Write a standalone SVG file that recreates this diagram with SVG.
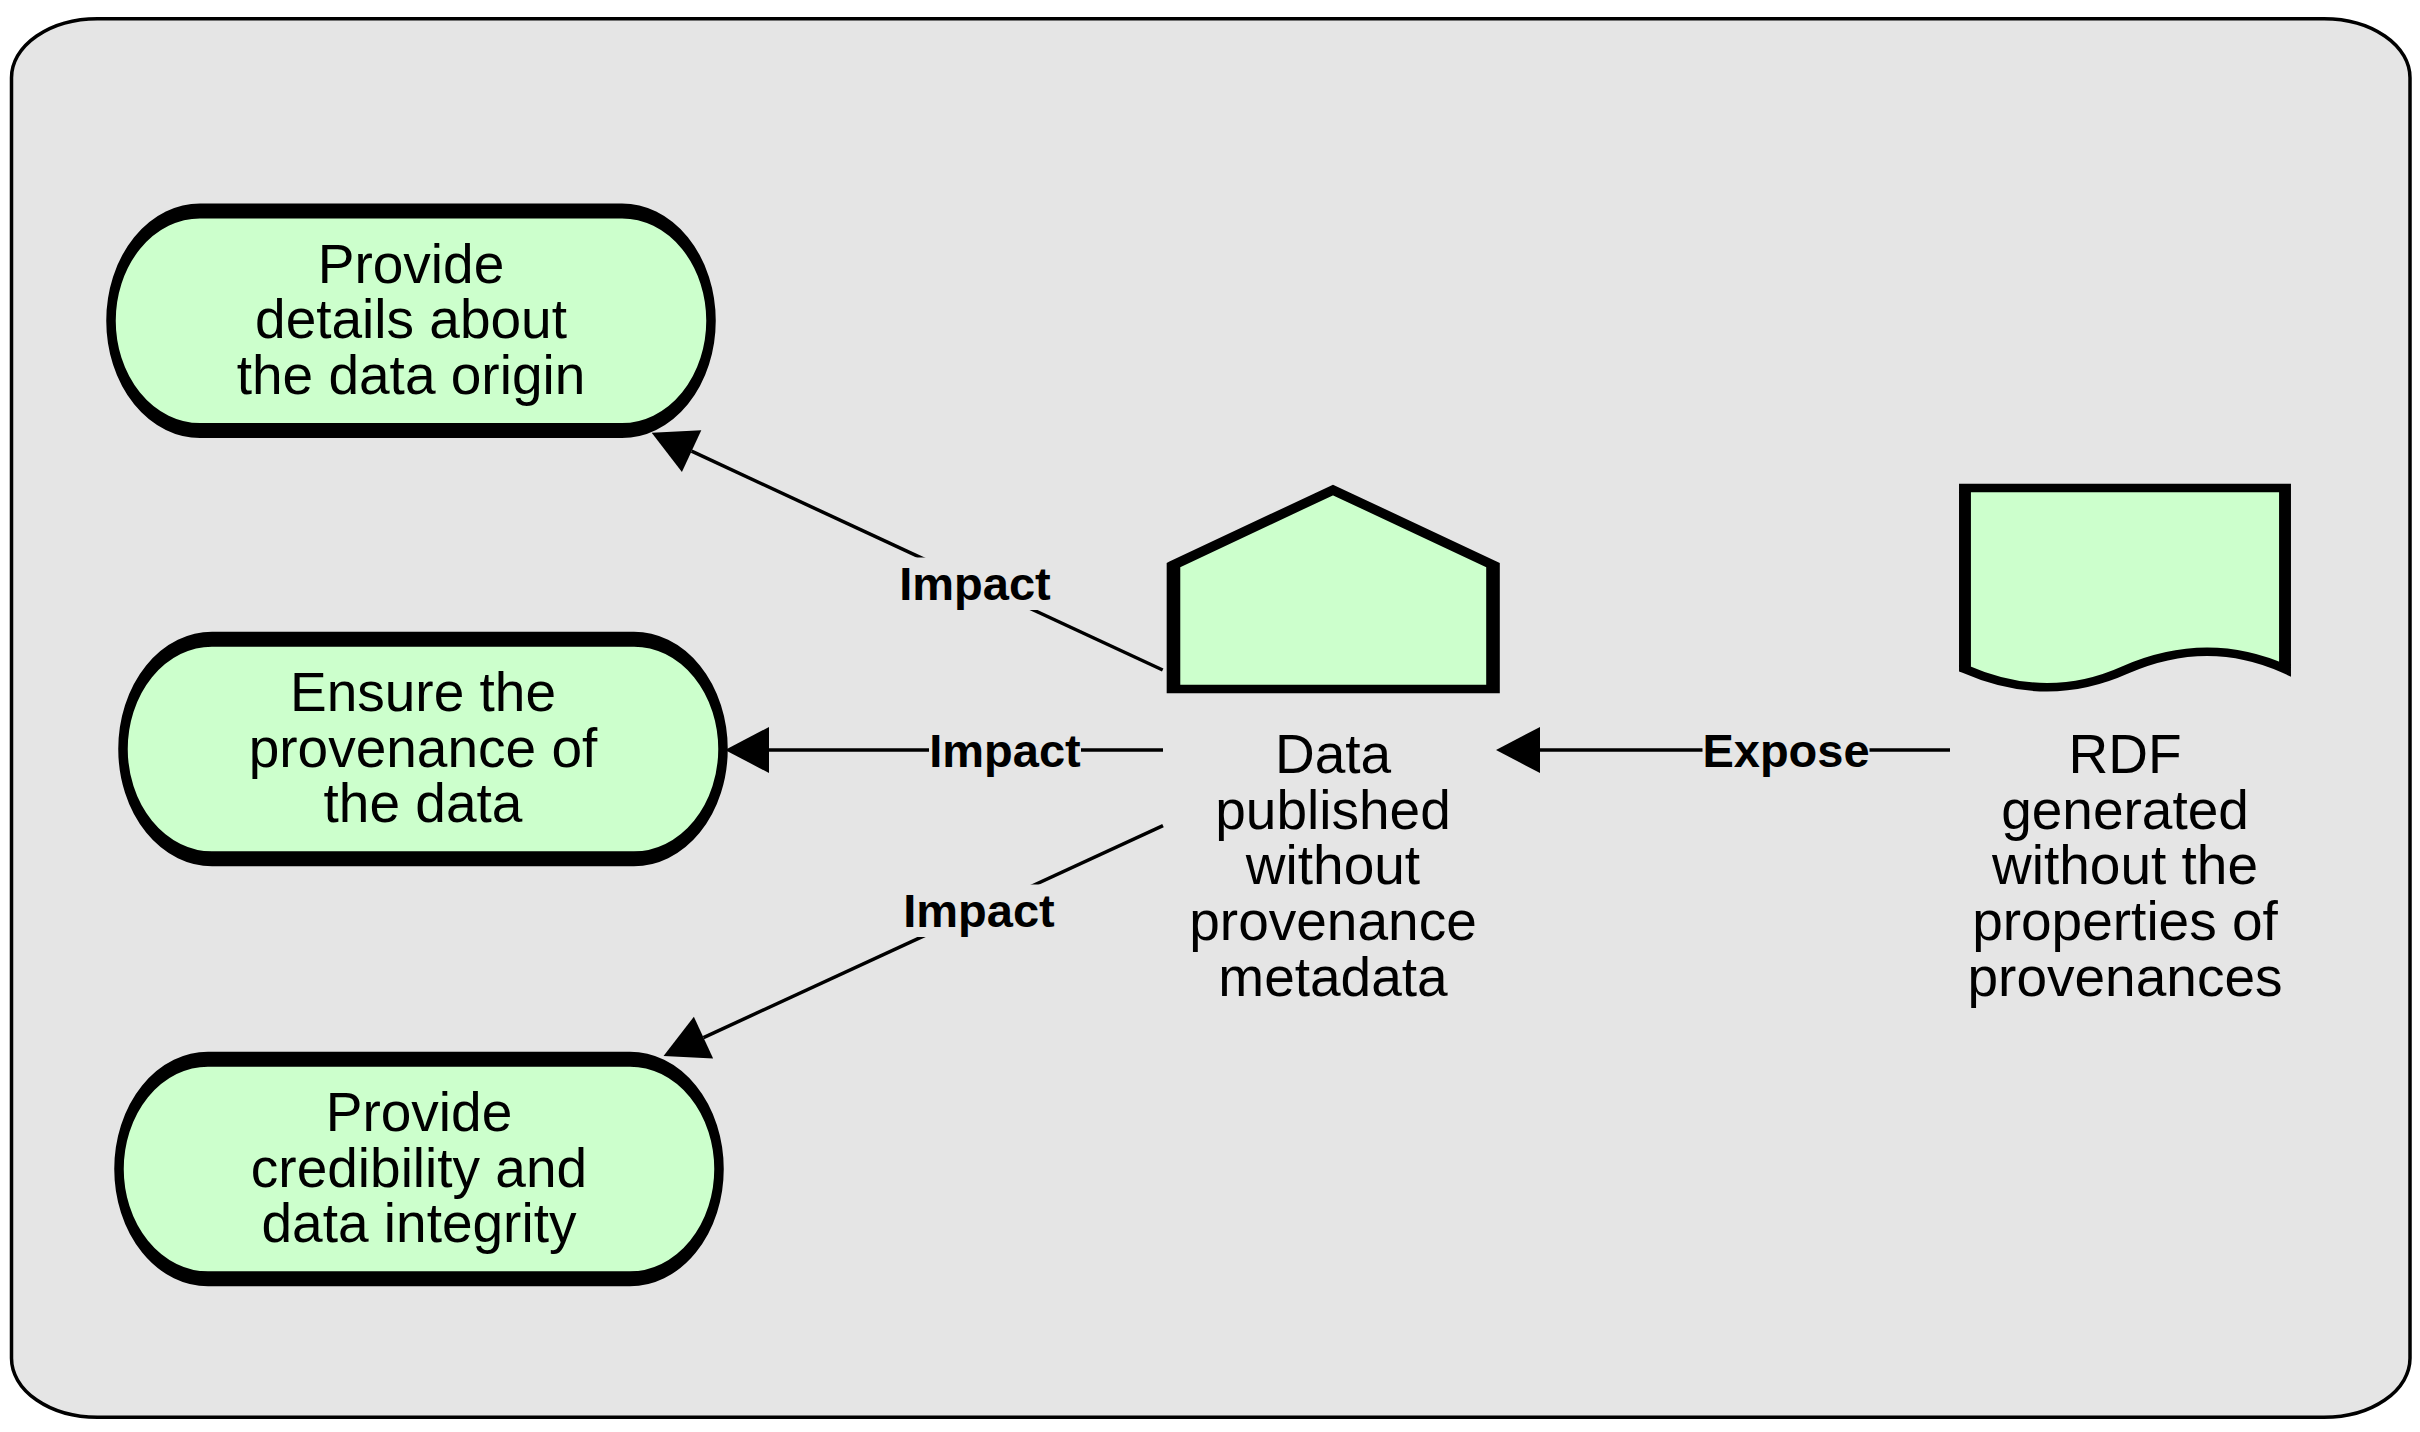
<svg xmlns="http://www.w3.org/2000/svg" width="2420" height="1432" viewBox="0 0 2420 1432">
<defs>
<style>
.bg{fill:#e5e5e5;stroke:#000;stroke-width:3.5}
.term{fill:#ccffcc;stroke:#000;stroke-width:9.5}
.shape{fill:#ccffcc;stroke:#000;stroke-width:8.5}
.txt{font-family:"Liberation Sans",Arial,sans-serif;font-size:55px;fill:#000;text-anchor:middle}
.lbl{font-family:"Liberation Sans",Arial,sans-serif;font-size:47px;font-weight:bold;fill:#000;text-anchor:middle}
.conn{stroke:#000;stroke-width:3.5;fill:none;marker-end:url(#arr)}
.lblbg{fill:#e5e5e5;stroke:none}
</style>
<marker id="arr" markerUnits="userSpaceOnUse" markerWidth="50" markerHeight="50" viewBox="0 -25 50 50" refX="0" refY="0" orient="auto" overflow="visible">
<path d="M0,-23 L44,0 L0,23 Z" fill="#000"/>
</marker>
</defs>
<rect class="bg" x="11.5" y="18.7" width="2398.5" height="1398.6" rx="86" ry="59"/>

<g id="connectors">
<line class="conn" x1="1162.7" y1="670" x2="691.6" y2="451.2"/>
<line class="conn" x1="1163" y1="750" x2="769" y2="750"/>
<line class="conn" x1="1163" y1="825.6" x2="703.5" y2="1037.6"/>
<line class="conn" x1="1950" y1="750" x2="1540" y2="750"/>
<rect class="lblbg" x="899" y="557.5" width="152" height="52.5"/>
<text class="lbl" x="975" y="600">Impact</text>
<rect class="lblbg" x="929" y="724.5" width="152" height="52.5"/>
<text class="lbl" x="1005" y="767">Impact</text>
<rect class="lblbg" x="903" y="884.5" width="152" height="52.5"/>
<text class="lbl" x="979" y="927">Impact</text>
<rect class="lblbg" x="1702.5" y="724.5" width="167" height="52.5"/>
<text class="lbl" x="1786" y="767">Expose</text>
</g>

<g id="node-origin">
<rect class="term" transform="translate(411,320.75) scale(1,1.58)" x="-300" y="-69.5" width="600" height="139" rx="89" ry="69.5"/>
<text class="txt" x="411" y="282.6">Provide</text>
<text class="txt" x="411" y="338.3">details about</text>
<text class="txt" x="411" y="394">the data origin</text>
</g>

<g id="node-provenance">
<rect class="term" transform="translate(423,749) scale(1,1.58)" x="-300" y="-69.5" width="600" height="139" rx="89" ry="69.5"/>
<text class="txt" x="423" y="710.8">Ensure the</text>
<text class="txt" x="423" y="766.5">provenance of</text>
<text class="txt" x="423" y="822.2">the data</text>
</g>

<g id="node-credibility">
<rect class="term" transform="translate(419,1169) scale(1,1.58)" x="-300" y="-69.5" width="600" height="139" rx="89" ry="69.5"/>
<text class="txt" x="419" y="1130.8">Provide</text>
<text class="txt" x="419" y="1186.5">credibility and</text>
<text class="txt" x="419" y="1242.2">data integrity</text>
</g>

<g id="node-data">
<path class="shape" transform="translate(1333,589.5) scale(1.6,1)" d="M-99.7,-24.5 L0,-99.5 L100,-24.5 L100,99.5 L-99.7,99.5 Z"/>
<text class="txt" x="1333" y="773">Data</text>
<text class="txt" x="1333" y="828.7">published</text>
<text class="txt" x="1333" y="884.4">without</text>
<text class="txt" x="1333" y="940.1">provenance</text>
<text class="txt" x="1333" y="995.8">metadata</text>
</g>

<g id="node-rdf">
<path class="shape" transform="translate(2125,0) scale(1.4,1)" d="M-114.3,488 L114.3,488 L114.3,669 Q58.6,634 0,670 Q-55.7,705 -114.3,669 Z"/>
<text class="txt" x="2125" y="773">RDF</text>
<text class="txt" x="2125" y="828.7">generated</text>
<text class="txt" x="2125" y="884.4">without the</text>
<text class="txt" x="2125" y="940.1">properties of</text>
<text class="txt" x="2125" y="995.8">provenances</text>
</g>
</svg>
